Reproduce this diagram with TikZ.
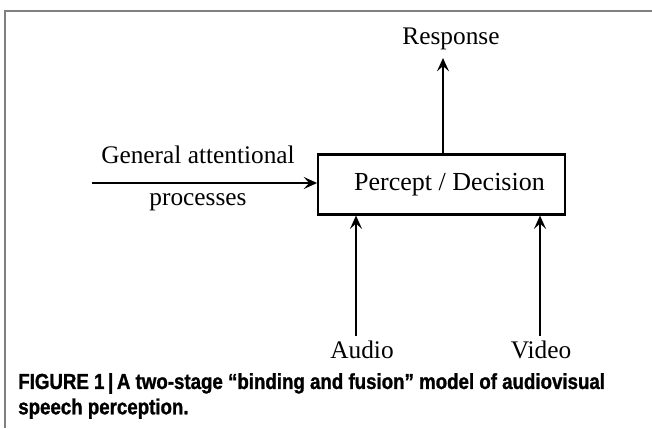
\documentclass[tikz,border=0pt]{standalone}
\usepackage{fontspec}
\setmainfont{Liberation Serif}
\newfontfamily\capfont[FakeStretch=0.86,FakeBold=1.2]{Liberation Sans}
\usetikzlibrary{arrows.meta}

\begin{document}
\begin{tikzpicture}[x=0.75pt,y=-0.75pt,
  lbl/.style={font=\fontsize{19}{21}\selectfont,inner sep=0pt},
  box/.style={draw,line width=1.6pt,minimum width=185pt,minimum height=45pt,inner sep=0pt,font=\fontsize{19.5}{21}\selectfont},
  flow/.style={line width=2.1pt,-{Stealth[length=10pt,width=9pt,inset=4pt]}}]

\useasboundingbox (0,0) rectangle (652,428);

% Frame round the figure
\draw[gray,line width=1.2pt] (5,428) -- (5,11) -- (652,11);

% The decision stage
\node[box] (dec) at (441.5,184.5) {\hspace{12pt}Percept / Decision};

% Labels
\node[lbl] (resp) at (451,39) {Response};
\node[lbl] (gen) at (198,155) {General attentional};
\node[lbl] (proc) at (198,202) {processes};
\node[lbl] (aud) at (362,350) {Audio};
\node[lbl] (vid) at (541,350) {Video};

% Free ends of the arrows
\coordinate (rtop) at (443,58);
\coordinate (gin) at (92,183);
\coordinate (abot) at (356,336);
\coordinate (vbot) at (540,336);

% Arrows
\draw[flow] (rtop |- dec.north) -- (rtop);
\draw[flow] (gin) -- (gin -| dec.west);
\draw[flow] (abot) -- (abot |- dec.south);
\draw[flow] (vbot) -- (vbot |- dec.south);

% Caption
\node[anchor=west,align=left,inner sep=0pt,font=\capfont\bfseries\fontsize{16.3}{19}\selectfont] (cap) at (18,396)
  {FIGURE 1\,|\,A two-stage “binding and fusion” model of audiovisual\\speech perception.};

\end{tikzpicture}
\end{document}
